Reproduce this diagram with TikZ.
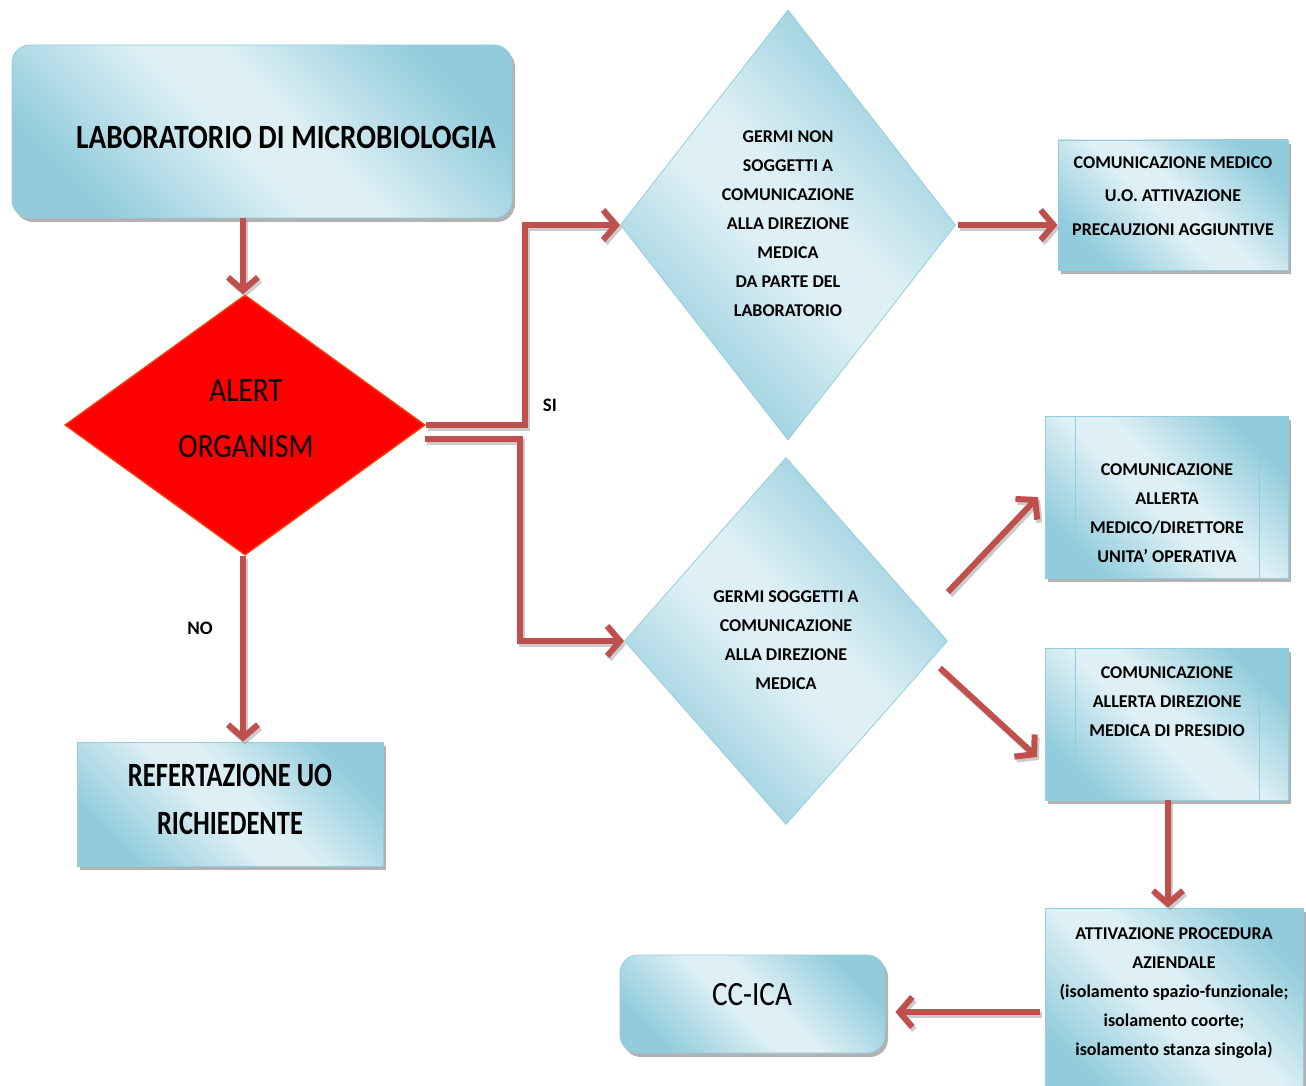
\documentclass[tikz,border=0pt]{standalone}
\usepackage{fontspec}
\setmainfont{Carlito}
\newfontfamily\narrowfont{Carlito}[FakeStretch=0.86]
\newfontfamily\narrowerfont{Carlito}[FakeStretch=0.78]
\usetikzlibrary{shapes.geometric,arrows.meta,shadows}
\definecolor{bdark}{HTML}{92CCDC}
\definecolor{blight}{HTML}{DEF0F5}
\definecolor{arr}{HTML}{C0504D}
\definecolor{bord}{HTML}{93CDDD}
\definecolor{alertred}{HTML}{FF0000}
\definecolor{alertbord}{HTML}{FF3300}
\pgfdeclarehorizontalshading{boxshade}{100bp}{color(0bp)=(bdark); color(25bp)=(bdark); color(46bp)=(blight); color(54bp)=(blight); color(75bp)=(bdark); color(100bp)=(bdark)}
\tikzset{
  shad/.style={drop shadow={shadow xshift=3pt, shadow yshift=-4pt, fill=black!55, opacity=0.55}},
  box/.style={draw=bord, line width=0.8pt, shading=boxshade, shading angle=45, shad, inner sep=0pt},
  rbox/.style={box, rounded corners=18pt},
  ddia/.style={diamond, draw=bord, line width=0.8pt, shading=boxshade, shading angle=45, inner sep=0pt, aspect=1},
  smalltxt/.style={font=\bfseries\fontsize{18}{29}\selectfont, align=center, inner sep=0pt, text=black},
  bigtxt/.style={font=\narrowfont\bfseries\fontsize{34}{48}\selectfont, align=center, inner sep=0pt},
  arrline/.style={draw=arr, line width=6pt, preaction={draw=black!45, opacity=0.45, line width=6pt, transform canvas={xshift=2pt, yshift=-3pt}}},
  arrow/.style={arrline, -{Straight Barb[length=13pt, width=30pt, line width=6pt]}},
}
\begin{document}
\begin{tikzpicture}[x=1pt,y=-1pt]
\useasboundingbox (0,0) rectangle (1306,1086);

% boxes
\node[rbox, minimum width=500, minimum height=173] (lab) at (262,131.5) {};
\node[bigtxt] (labt) at (286,137) {LABORATORIO DI MICROBIOLOGIA};

\node[diamond, fill=alertred, draw=alertbord, line width=1.5pt, inner sep=0pt, minimum width=360, minimum height=260] (alert) at (245,425) {};
\node[font=\narrowfont\fontsize{34}{56}\selectfont, align=center, inner sep=0pt] (alertt) at (246,419) {ALERT\\ORGANISM};

\node[box, minimum width=306, minimum height=124] (ref) at (230,804) {};
\node[font=\narrowerfont\bfseries\fontsize{34}{48}\selectfont, align=center, inner sep=0pt] (reft) at (230,799) {REFERTAZIONE UO\\RICHIEDENTE};

\node[ddia, minimum width=335, minimum height=430] (d1) at (788,225) {};
\node[smalltxt] (d1t) at (788,224) {GERMI NON\\SOGGETTI A\\COMUNICAZIONE\\ALLA DIREZIONE\\MEDICA\\DA PARTE DEL\\LABORATORIO};

\node[ddia, minimum width=323, minimum height=367] (d2) at (786,641) {};
\node[smalltxt] (d2t) at (786,640) {GERMI SOGGETTI A\\COMUNICAZIONE\\ALLA DIREZIONE\\MEDICA};

\node[box, minimum width=230, minimum height=130] (b1) at (1173,205) {};
\node[smalltxt, font=\bfseries\fontsize{18}{33.5}\selectfont] (b1t) at (1173,196) {COMUNICAZIONE MEDICO\\U.O. ATTIVAZIONE\\PRECAUZIONI AGGIUNTIVE};

\node[box, minimum width=243, minimum height=162] (b2) at (1166.5,497) {};
\draw[bord, line width=0.8pt] (1075,416) -- (1075,578) (1259,416) -- (1259,578);
\node[smalltxt] (b2t) at (1167,513) {COMUNICAZIONE\\ALLERTA\\MEDICO/DIRETTORE\\UNITA’ OPERATIVA};

\node[box, minimum width=243, minimum height=152] (b3) at (1166.5,724) {};
\draw[bord, line width=0.8pt] (1075,648) -- (1075,800) (1259,648) -- (1259,800);
\node[smalltxt] (b3t) at (1167,702) {COMUNICAZIONE\\ALLERTA DIREZIONE\\MEDICA DI PRESIDIO};

\node[box, minimum width=258, minimum height=190] (b4) at (1174,1003) {};
\node[smalltxt] (b4t) at (1174,993) {ATTIVAZIONE PROCEDURA\\AZIENDALE\\(isolamento spazio-funzionale;\\isolamento coorte;\\isolamento stanza singola)};

\node[rbox, minimum width=265, minimum height=98] (cc) at (752.5,1004) {};
\node[font=\narrowfont\fontsize{34}{40}\selectfont, inner sep=0pt] (cct) at (752,995) {CC-ICA};

% labels
\node[font=\bfseries\fontsize{19}{22}\selectfont, inner sep=0pt] (si) at (550,405) {SI};
\node[font=\bfseries\fontsize{19}{22}\selectfont, inner sep=0pt] (no) at (200,628) {NO};

% connectors
\coordinate (a1s) at (243,218);
\draw[arrow] (a1s) -- (alert.north -| a1s);
\draw[arrow] (alert.south -| a1s) -- (ref.north -| a1s);
\coordinate (al) at (425,439);
\draw[arrow] (alert.east) -- (525,425) |- (d1.west);
\draw[arrow] (al) -- (520,439) |- (d2.west);
\coordinate (d1e) at (958,225);
\draw[arrow] (d1e) -- (b1.west |- d1e);
\coordinate (d2a) at (948,592);
\coordinate (b2a) at (1038,497);
\draw[arrow] (d2a) -- (b2a);
\coordinate (d2b) at (940,668);
\coordinate (b3a) at (1037,757);
\draw[arrow] (d2b) -- (b3a);
\coordinate (b3s) at (1168,800);
\draw[arrow] (b3s) -- (b4.north -| b3s);
\coordinate (b4w) at (1040,1012);
\draw[arrow, shorten >=10pt] (b4w) -- (cc.east |- b4w);
\end{tikzpicture}
\end{document}
